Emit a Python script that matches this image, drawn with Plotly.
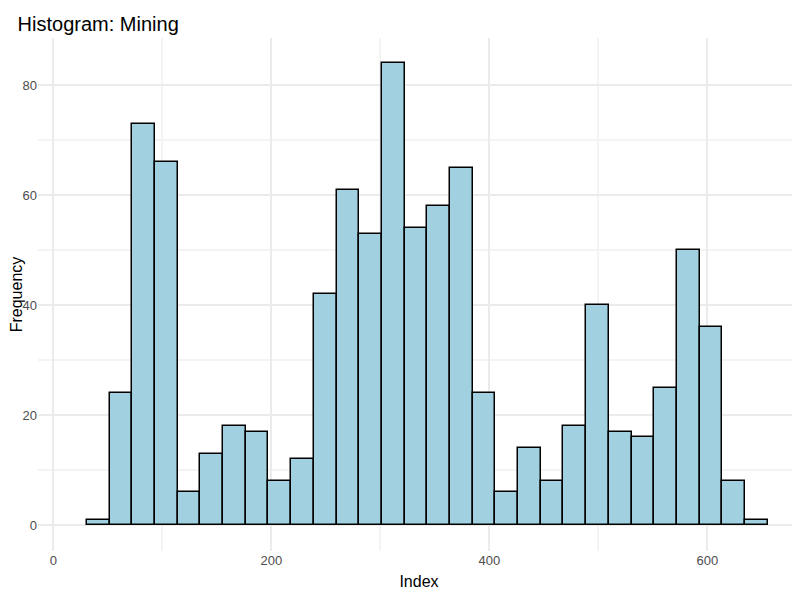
import plotly.graph_objects as go

bin_start = 30.8
bin_width = 20.82
counts = [1, 24, 73, 66, 6, 13, 18, 17, 8, 12, 42, 61, 53, 84, 54, 58, 65, 24,
          6, 14, 8, 18, 40, 17, 16, 25, 50, 36, 8, 1]
centers = [bin_start + bin_width * (i + 0.5) for i in range(len(counts))]

fig = go.Figure(go.Bar(x=centers, y=counts, width=bin_width,
                       marker=dict(color='#a1d0e0', line=dict(color='black', width=1.5))))

fig.update_layout(
    width=800, height=600,
    title=dict(text='Histogram: Mining', x=0.012, y=0.985, xanchor='left', yanchor='top',
               font=dict(size=20, color='black')),
    font=dict(family='Liberation Sans, Arial', color='#4d4d4d', size=13),
    plot_bgcolor='white', paper_bgcolor='white',
    margin=dict(l=30, r=8, t=30, b=57),
    bargap=0, showlegend=False,
    xaxis=dict(range=[-14, 685], tickvals=[0, 200, 400, 600], showgrid=True,
               gridcolor='#ebebeb', gridwidth=1.5, zeroline=False, automargin=False,
               minor=dict(tickvals=[100, 300, 500], showgrid=True, gridcolor='#f4f4f4'),
               title=dict(text='Index', font=dict(size=16, color='black'), standoff=8)),
    yaxis=dict(range=[-4.7, 88.6], tickvals=[0, 20, 40, 60, 80], showgrid=True,
               gridcolor='#ebebeb', gridwidth=1.5, zeroline=False, automargin=False,
               minor=dict(tickvals=[10, 30, 50, 70], showgrid=True, gridcolor='#f4f4f4'),
               title=dict(text='Frequency', font=dict(size=16, color='black'), standoff=4)),
)

fig.write_html("out.html")
